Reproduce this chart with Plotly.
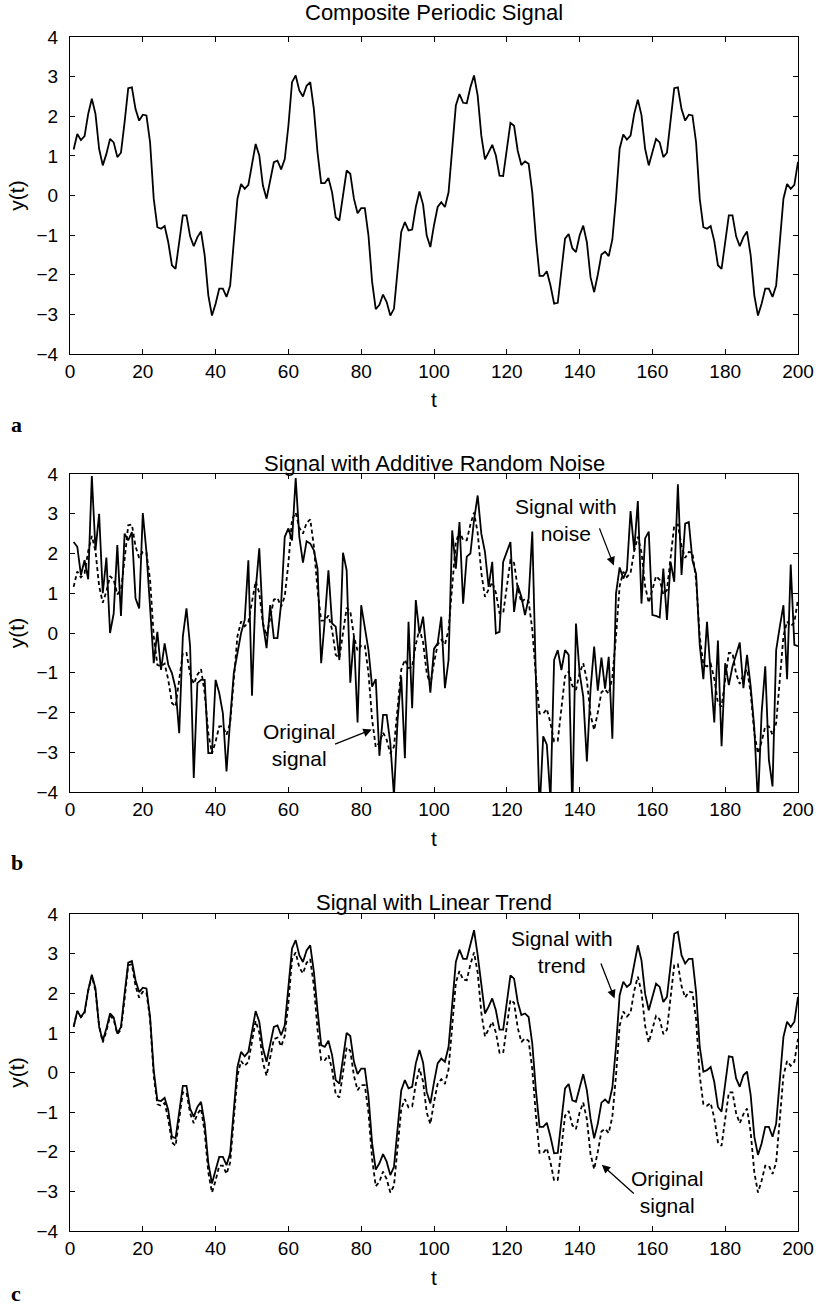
import plotly.graph_objects as go

# ---------------- data ----------------
t = list(range(1, 201))

original = [
    1.16, 1.55, 1.40, 1.50, 2.06, 2.44, 2.06, 1.18, 0.76, 1.05,
    1.43, 1.34, 0.97, 1.08, 1.85, 2.71, 2.73, 2.18, 1.89, 2.04,
    2.02, 1.34, -0.08, -0.80, -0.84, -0.77, -1.18, -1.76, -1.85, -1.18,
    -0.50, -0.50, -1.03, -1.28, -1.05, -0.91, -1.51, -2.52, -3.03, -2.73,
    -2.35, -2.35, -2.56, -2.27, -1.09, -0.08, 0.29, 0.17, 0.27, 0.78,
    1.30, 1.01, 0.25, -0.08, 0.34, 0.84, 0.88, 0.66, 0.92, 1.76,
    2.86, 3.03, 2.65, 2.50, 2.77, 2.86, 2.18, 1.09, 0.31, 0.31,
    0.44, 0.08, -0.55, -0.63, 0.00, 0.63, 0.55, -0.08, -0.45, -0.32,
    -0.32, -1.01, -2.18, -2.87, -2.76, -2.50, -2.69, -3.03, -2.86, -1.85,
    -0.92, -0.67, -0.88, -0.86, -0.29, 0.10, -0.23, -1.01, -1.30, -0.75,
    -0.29, -0.17, -0.29, 0.08, 1.18, 2.27, 2.56, 2.34, 2.33, 2.73,
    3.03, 2.52, 1.51, 0.91, 1.09, 1.28, 1.01, 0.50, 0.49, 1.18,
    1.83, 1.76, 1.13, 0.77, 0.86, 0.80, 0.08, -1.09, -2.03, -2.03,
    -1.91, -2.27, -2.73, -2.71, -1.85, -1.09, -0.97, -1.33, -1.43, -1.01,
    -0.76, -1.18, -2.06, -2.44, -2.00, -1.49, -1.42, -1.53, -1.11, -0.08,
    1.18, 1.54, 1.41, 1.51, 2.06, 2.42, 2.03, 1.18, 0.76, 1.07,
    1.43, 1.34, 0.97, 1.08, 1.85, 2.71, 2.73, 2.18, 1.89, 2.04,
    2.02, 1.34, -0.08, -0.80, -0.84, -0.77, -1.15, -1.76, -1.85, -1.16,
    -0.50, -0.50, -1.03, -1.28, -1.05, -0.91, -1.51, -2.52, -3.03, -2.73,
    -2.35, -2.35, -2.56, -2.27, -1.09, -0.08, 0.29, 0.17, 0.27, 0.85,
]

noisy = [
    2.29, 2.17, 1.46, 1.83, 1.35, 3.95, 2.08, 3.00, 1.00, 1.90,
    0.00, 0.49, 2.21, 0.43, 2.50, 2.33, 2.54, 0.87, 0.62, 3.02,
    2.04, 0.58, -0.76, 0.03, -0.93, -0.26, -0.80, -1.01, -1.39, -2.52,
    -0.09, 0.62, -0.34, -3.65, -1.26, -1.18, -1.18, -3.02, -3.02, -1.18,
    -1.51, -2.02, -3.48, -2.18, -1.01, -0.51, 0.00, 0.33, 1.83, -1.58,
    1.08, 2.13, 0.24, -0.38, 0.70, -0.13, -0.13, 0.74, 2.42, 2.63,
    2.33, 3.90, 2.42, 1.77, 2.31, 2.25, 2.08, 1.62, -0.76, 0.33,
    1.58, 0.24, 0.16, -0.68, 2.02, 1.58, -1.25, -0.08, -2.25, 0.70,
    0.16, -0.43, -1.35, -1.16, -3.09, -2.06, -2.06, -2.77, -4.10, -2.18,
    -1.10, -3.15, 0.28, -1.89, 0.83, -0.01, 0.41, -0.50, -1.50, -0.40,
    -0.26, 0.41, -1.39, -0.68, 2.58, 1.62, 2.79, 0.74, 1.92, 2.00,
    2.84, 3.46, 2.50, 2.04, 1.16, 1.79, -0.01, 0.03, 1.79, 2.04,
    2.29, 0.53, 1.20, 0.91, 0.45, 0.87, 2.55, -1.18, -4.50, -2.60,
    -2.81, -4.20, -0.68, -0.43, -0.93, -0.43, -0.55, -4.50, 0.24, -1.01,
    -1.60, -3.23, -1.43, -0.34, -1.45, -0.62, -1.40, -0.60, -2.66, 0.99,
    1.65, 1.37, 1.58, 3.07, 2.08, 3.32, 0.74, 2.38, 2.55, 0.45,
    0.43, 0.39, 1.62, 0.33, 1.79, 1.29, 3.74, 1.46, 2.75, 2.79,
    1.83, 1.49, -0.30, -1.16, 0.28, -1.02, -2.25, -0.19, -2.85, -0.76,
    -1.31, -0.84, -0.51, -0.24, -1.39, -0.55, -1.35, -2.40, -4.30, -2.02,
    -0.84, -3.19, -3.86, -0.43, 0.16, 0.70, -1.16, 1.72, -0.30, -0.33,
]

trended = [
    1.15, 1.55, 1.40, 1.53, 2.08, 2.47, 2.12, 1.15, 0.80, 1.11,
    1.49, 1.39, 0.98, 1.15, 1.99, 2.77, 2.81, 2.33, 2.03, 2.14,
    2.12, 1.40, 0.06, -0.70, -0.72, -0.64, -0.95, -1.62, -1.66, -0.99,
    -0.34, -0.34, -0.91, -1.12, -0.87, -0.74, -1.29, -2.29, -2.80, -2.46,
    -2.13, -2.13, -2.34, -2.04, -0.87, 0.14, 0.52, 0.41, 0.52, 1.07,
    1.55, 1.28, 0.61, 0.27, 0.69, 1.15, 1.19, 0.94, 1.19, 2.08,
    3.13, 3.34, 2.96, 2.79, 3.08, 3.21, 2.54, 1.57, 0.69, 0.65,
    0.80, 0.44, -0.19, -0.28, 0.35, 1.00, 0.92, 0.27, -0.04, 0.10,
    0.10, -0.61, -1.79, -2.45, -2.29, -2.06, -2.25, -2.59, -2.38, -1.37,
    -0.45, -0.19, -0.40, -0.36, 0.23, 0.57, 0.25, -0.49, -0.78, -0.25,
    0.23, 0.35, 0.27, 0.65, 1.70, 2.79, 3.10, 2.87, 2.87, 3.25,
    3.59, 2.96, 2.16, 1.49, 1.66, 1.87, 1.57, 1.08, 1.08, 1.78,
    2.45, 2.37, 1.78, 1.45, 1.49, 1.40, 0.73, -0.45, -1.37, -1.37,
    -1.27, -1.62, -2.04, -2.03, -1.20, -0.40, -0.29, -0.70, -0.74, -0.36,
    -0.04, -0.45, -1.16, -1.66, -1.29, -0.76, -0.68, -0.78, -0.38, 0.65,
    1.95, 2.29, 2.16, 2.24, 2.75, 3.21, 2.83, 1.99, 1.57, 1.91,
    2.24, 2.16, 1.78, 1.91, 2.66, 3.50, 3.55, 2.96, 2.75, 2.87,
    2.87, 2.03, 0.65, 0.02, 0.06, 0.14, -0.24, -0.87, -0.99, -0.24,
    0.41, 0.39, -0.15, -0.36, -0.07, 0.02, -0.57, -1.62, -2.08, -1.79,
    -1.37, -1.37, -1.62, -1.29, -0.11, 0.90, 1.28, 1.15, 1.28, 1.91,
]

x_ticks = [0, 20, 40, 60, 80, 100, 120, 140, 160, 180, 200]
y_ticks = [-4, -3, -2, -1, 0, 1, 2, 3, 4]
titles = ["Composite Periodic Signal", "Signal with Additive Random Noise",
          "Signal with Linear Trend"]
letters = ["a", "b", "c"]

# ---------------- layout helpers ----------------
W, H = 826, 1310
L, R, T, B = 70, 26, 37, 79
PW, PH = W - L - R, H - T - B


def ypap(py):
    return 1 - (py - T) / PH


def xpap(px):
    return (px - L) / PW


panel_px = [(37, 354), (474, 792), (914, 1231)]
title_py = [13, 463, 902]
letter_py = [424, 862, 1293]

FONT = "Liberation Sans, Arial, Helvetica, sans-serif"
SERIF = "Liberation Serif, Times New Roman, serif"
fig = go.Figure()

solid = dict(color="black", width=1.8)
dashed = dict(color="black", width=1.8, dash="4px,3px")

fig.add_trace(go.Scatter(x=t, y=original, mode="lines", line=solid,
                         xaxis="x", yaxis="y", showlegend=False))
fig.add_trace(go.Scatter(x=t, y=original, mode="lines", line=dashed,
                         xaxis="x2", yaxis="y2", showlegend=False))
fig.add_trace(go.Scatter(x=t, y=noisy, mode="lines", line=solid,
                         xaxis="x2", yaxis="y2", showlegend=False))
fig.add_trace(go.Scatter(x=t, y=original, mode="lines", line=dashed,
                         xaxis="x3", yaxis="y3", showlegend=False))
fig.add_trace(go.Scatter(x=t, y=trended, mode="lines", line=solid,
                         xaxis="x3", yaxis="y3", showlegend=False))

axis_common = dict(showline=True, linecolor="black", linewidth=1.2,
                   mirror="allticks", ticks="inside", ticklen=5,
                   tickcolor="black", tickwidth=1.2, showgrid=False,
                   zeroline=False, tickfont=dict(family=FONT, size=19, color="black"))

layout = dict(width=W, height=H, margin=dict(l=L, r=R, t=T, b=B),
              paper_bgcolor="white", plot_bgcolor="white",
              font=dict(family=FONT, size=19, color="black"))

annotations = []
for i, (top, bot) in enumerate(panel_px):
    sx = "" if i == 0 else str(i + 1)
    layout["xaxis" + sx] = dict(axis_common, range=[0, 200], tickvals=x_ticks,
                                anchor="y" + sx, domain=[0, 1])
    layout["yaxis" + sx] = dict(axis_common, range=[-4, 4], tickvals=y_ticks,
                                anchor="x" + sx, domain=[ypap(bot), ypap(top)],
                                ticklabelstandoff=7)
    mid = (top + bot) / 2
    annotations.append(dict(text=titles[i], x=0.5, y=ypap(title_py[i]), xref="paper",
                            yref="paper", showarrow=False, xanchor="center",
                            yanchor="middle", font=dict(size=22)))
    annotations.append(dict(text="t", x=0.5, y=ypap(bot + 46), xref="paper",
                            yref="paper", showarrow=False, xanchor="center",
                            yanchor="middle", font=dict(size=21)))
    annotations.append(dict(text="y(t)", x=xpap(16), y=ypap(mid), xref="paper",
                            yref="paper", showarrow=False, textangle=-90,
                            xanchor="center", yanchor="middle", font=dict(size=21)))
    annotations.append(dict(text="<b>%s</b>" % letters[i], x=xpap(9), y=ypap(letter_py[i]),
                            xref="paper", yref="paper", showarrow=False,
                            xanchor="left", yanchor="middle",
                            font=dict(size=22, family=SERIF)))

arrow_style = dict(showarrow=True, arrowhead=2, arrowsize=1.3, arrowwidth=1.3,
                   arrowcolor="black", text="")

# Panel b annotations
annotations.append(dict(text="Signal with<br>noise", x=136.3, y=2.84, xref="x2", yref="y2",
                        showarrow=False, xanchor="center", yanchor="middle",
                        font=dict(size=21)))
annotations.append(dict(arrow_style, x=149.4, y=1.7, ax=145.3, ay=2.67,
                        xref="x2", yref="y2", axref="x2", ayref="y2"))
annotations.append(dict(text="Original<br>signal", x=62.8, y=-2.83, xref="x2", yref="y2",
                        showarrow=False, xanchor="center", yanchor="middle",
                        font=dict(size=21)))
annotations.append(dict(arrow_style, x=82.9, y=-2.43, ax=72.4, ay=-2.81,
                        xref="x2", yref="y2", axref="x2", ayref="y2"))

# Panel c annotations
annotations.append(dict(text="Signal with<br>trend", x=135.2, y=3.03, xref="x3", yref="y3",
                        showarrow=False, xanchor="center", yanchor="middle",
                        font=dict(size=21)))
annotations.append(dict(arrow_style, x=149.6, y=1.87, ax=145.7, ay=2.79,
                        xref="x3", yref="y3", axref="x3", ayref="y3"))
annotations.append(dict(text="Original<br>signal", x=164.1, y=-3.01, xref="x3", yref="y3",
                        showarrow=False, xanchor="center", yanchor="middle",
                        font=dict(size=21)))
annotations.append(dict(arrow_style, x=146.1, y=-2.33, ax=155.3, ay=-3.09,
                        xref="x3", yref="y3", axref="x3", ayref="y3"))

layout["annotations"] = annotations
fig.update_layout(**layout)

fig.write_html("out.html", config={"displayModeBar": False},
               post_script="document.body.style.margin='0';document.body.style.padding='0';")
